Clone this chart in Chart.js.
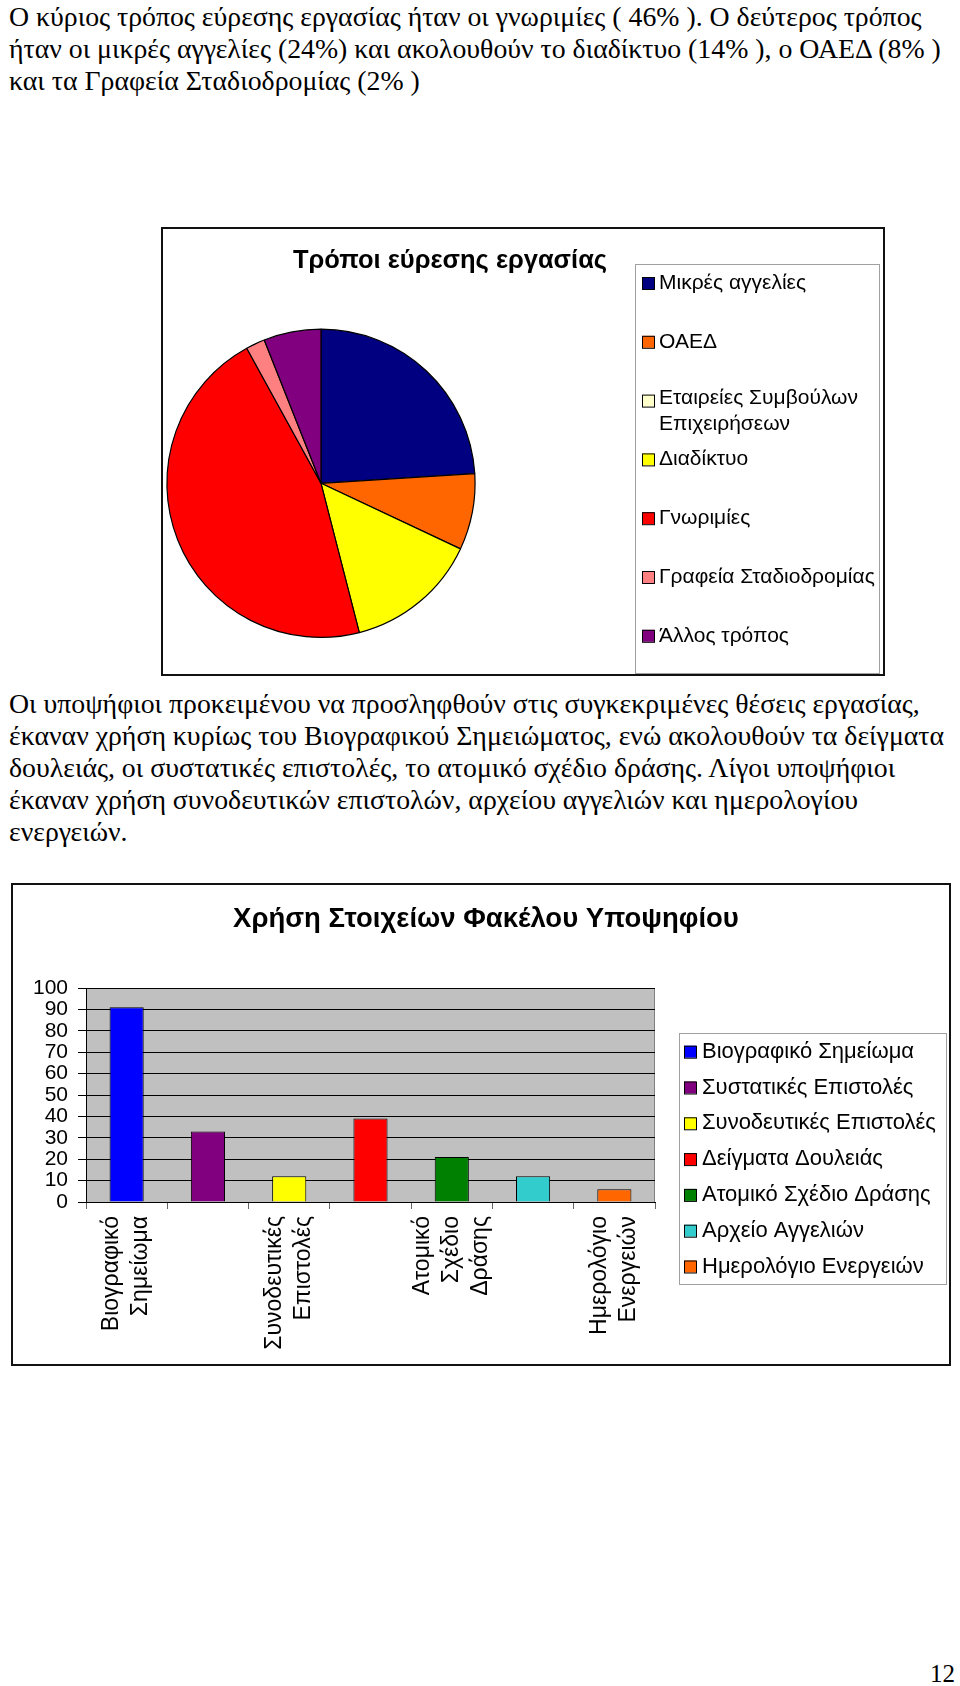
<!doctype html>
<html>
<head>
<meta charset="utf-8" />
<title>Τρόποι εύρεσης εργασίας</title>
<script src="https://cdn.jsdelivr.net/npm/chart.js@4.4.0/dist/chart.umd.min.js"></script>
<style>
    body { margin: 0; background: #fff; width: 960px; height: 1686px; position: relative; overflow: hidden; }
    .keimeno { position: absolute; left: 9px; margin: 0; font-family: "Liberation Serif", "Times New Roman", serif;
               font-size: 27.8px; line-height: 32px; color: #000; white-space: nowrap; }
    .plaisio { position: absolute; border: 2px solid #111; background: #fff; }
    .plaisio canvas { display: block; }
    #selida { position: absolute; right: 5px; top: 1660px; font-family: "Liberation Serif", serif; font-size: 25px; }
</style>
<script>
    // --- πίτα: τρόποι εύρεσης εργασίας (%)
    const tropoi = ['Μικρές αγγελίες', 'ΟΑΕΔ', 'Εταιρείες Συμβούλων Επιχειρήσεων', 'Διαδίκτυο',
                    'Γνωριμίες', 'Γραφεία Σταδιοδρομίας', 'Άλλος τρόπος'];
    const pososta = [24, 8, 0, 14, 46, 2, 6];
    const xromataPitas = ['#000080', '#FF6600', '#FFFFCC', '#FFFF00', '#FF0000', '#FF8080', '#800080'];

    // --- ράβδοι: χρήση στοιχείων φακέλου
    const stoixeia = ['Βιογραφικό Σημείωμα', 'Συστατικές Επιστολές', 'Συνοδευτικές Επιστολές', 'Δείγματα Δουλειάς',
                      'Ατομικό Σχέδιο Δράσης', 'Αρχείο Αγγελιών', 'Ημερολόγιο Ενεργειών'];
    const xrisi = [91, 33, 12, 39, 21, 12, 6];
    const xromataRabdon = ['#0000FF', '#800080', '#FFFF00', '#FF0000', '#008000', '#33CCCC', '#FF6600'];
    const yMin = 0, yMax = 100, yBima = 10;

    const gramma = "'Liberation Sans', Arial, sans-serif";

    // ο τίτλος μετακινείται οριζόντια εκεί που ήταν στο excel
    const titlosThesi = {
        id: 'titlosThesi',
        afterLayout(chart, args, o) {
            const t = chart.titleBlock;
            t.left = o.x - 300;
            t.right = o.x + 300;
        }
    };

    // υπόμνημα με πλαίσιο, σαν του excel
    const plaisioYpomnimatos = {
        id: 'plaisioYpomnimatos',
        afterDraw(chart, args, o) {
            const ctx = chart.ctx;
            const etiketes = chart.data.labels;
            const xromata = chart.data.datasets[0].backgroundColor;
            ctx.save();
            ctx.lineWidth = 1;
            ctx.strokeStyle = '#a0a0a0';
            ctx.strokeRect(o.box[0] + 0.5, o.box[1] + 0.5, o.box[2], o.box[3]);
            ctx.font = o.font;
            ctx.textBaseline = 'middle';
            etiketes.forEach((et, i) => {
                const y = o.y0 + i * o.step;
                ctx.fillStyle = xromata[i];
                ctx.fillRect(o.sx, y - o.size / 2, o.size, o.size);
                ctx.strokeStyle = '#000';
                ctx.strokeRect(o.sx + 0.5, y - o.size / 2 + 0.5, o.size, o.size);
                // σπάσιμο γραμμής αν δεν χωράει
                const lekseis = et.split(' ');
                const grammes = [];
                let tr = '';
                lekseis.forEach(l => {
                    const dok = tr ? tr + ' ' + l : l;
                    if (tr && ctx.measureText(dok).width > o.maxW) { grammes.push(tr); tr = l; }
                    else tr = dok;
                });
                grammes.push(tr);
                ctx.fillStyle = '#000';
                const arxi = grammes.length > 1 ? y + o.multiStart : y;
                grammes.forEach((g, j) => ctx.fillText(g, o.tx, arxi + j * o.lineGap));
            });
            ctx.restore();
        }
    };

    // γκρι φόντο στην περιοχή σχεδίασης
    const fontoPlot = {
        id: 'fontoPlot',
        beforeDraw(chart, args, o) {
            const { ctx, chartArea: a } = chart;
            ctx.save();
            ctx.fillStyle = o.color;
            ctx.fillRect(a.left, a.top, a.width, a.height);
            ctx.strokeStyle = o.border;
            ctx.lineWidth = 1;
            ctx.strokeRect(a.left + 0.5, a.top + 0.5, a.width - 1, a.height);
            ctx.restore();
        }
    };

    // οι ετικέτες πολλών γραμμών κεντράρονται στην κατηγορία
    const kentroEtiketon = {
        id: 'kentroEtiketon',
        beforeDraw(chart, args, o) {
            chart.scales.x.getLabelItems().forEach(it => {
                if (it._metakinithike) return;
                const n = Array.isArray(it.label) ? it.label.length : 1;
                it.options.translation[0] -= (n - 1) / 2 * o.lineHeight;
                it._metakinithike = true;
            });
        }
    };

    window.onload = function () {
        new Chart(document.getElementById('pita'), {
            type: 'pie',
            data: {
                labels: tropoi,
                datasets: [{ data: pososta, backgroundColor: xromataPitas, borderColor: '#000', borderWidth: 1.2 }]
            },
            options: {
                responsive: false,
                animation: false,
                layout: { padding: { left: 3, right: 407, top: 0, bottom: 36 } },
                plugins: {
                    legend: { display: false },
                    tooltip: { enabled: false },
                    title: {
                        display: true, text: 'Τρόποι εύρεσης εργασίας', color: '#000',
                        font: { family: gramma, size: 25.5, weight: 'bold', lineHeight: 1.2 },
                        padding: { top: 17, bottom: 52 }
                    },
                    titlosThesi: { x: 287 },
                    plaisioYpomnimatos: {
                        box: [472, 35, 244, 409], sx: 479, size: 12, tx: 496, y0: 54, step: 58.8,
                        font: '21px ' + gramma, maxW: 216, multiStart: -2, lineGap: 26
                    }
                }
            },
            plugins: [titlosThesi, plaisioYpomnimatos]
        });

        new Chart(document.getElementById('rabdoi'), {
            type: 'bar',
            data: {
                labels: stoixeia,
                datasets: [{
                    data: xrisi, backgroundColor: xromataRabdon, borderColor: '#000', borderWidth: 1,
                    barPercentage: 0.42, categoryPercentage: 1
                }]
            },
            options: {
                responsive: false,
                animation: false,
                layout: { padding: { left: 0, right: 294, top: 0, bottom: 0 } },
                scales: {
                    y: {
                        min: yMin, max: yMax,
                        afterFit: s => { s.width = 73; },
                        ticks: { stepSize: yBima, autoSkip: false, color: '#000', padding: 10, font: { family: gramma, size: 21 } },
                        grid: { color: '#000', tickLength: 8 },
                        border: { color: '#000' }
                    },
                    x: {
                        afterFit: s => { s.height = 162; },
                        ticks: {
                            autoSkip: false, minRotation: 90, maxRotation: 90, color: '#000', padding: 7,
                            font: { family: gramma, size: 23, lineHeight: 1.26 },
                            callback: (v, i) => i % 2 === 0 ? stoixeia[i].split(' ') : ''
                        },
                        grid: { offset: true, drawOnChartArea: false, tickLength: 7, color: '#666' },
                        border: { color: '#000' }
                    }
                },
                plugins: {
                    legend: { display: false },
                    tooltip: { enabled: false },
                    title: {
                        display: true, text: 'Χρήση Στοιχείων Φακέλου Υποψηφίου', color: '#000',
                        font: { family: gramma, size: 27.5, weight: 'bold', lineHeight: 1.2 },
                        padding: { top: 18, bottom: 52 }
                    },
                    titlosThesi: { x: 473 },
                    fontoPlot: { color: '#C0C0C0', border: '#808080' },
                    kentroEtiketon: { lineHeight: 29 },
                    plaisioYpomnimatos: {
                        box: [666, 148, 267, 251], sx: 671, size: 12, tx: 689, y0: 166.7, step: 35.8,
                        font: '22px ' + gramma, maxW: 250, multiStart: 0, lineGap: 24
                    }
                }
            },
            plugins: [titlosThesi, fontoPlot, kentroEtiketon, plaisioYpomnimatos]
        });
    }
</script>
</head>
<body>
    <p class="keimeno" style="top:1px">
        Ο κύριος τρόπος εύρεσης εργασίας ήταν οι γνωριμίες ( 46% ). Ο δεύτερος τρόπος<br>
        ήταν οι μικρές αγγελίες (24%) και ακολουθούν το διαδίκτυο (14% ), ο ΟΑΕΔ (8% )<br>
        και τα Γραφεία Σταδιοδρομίας (2% )
    </p>

    <div class="plaisio" style="left:161px; top:227px; width:720px; height:445px">
        <canvas id="pita" width="720" height="445"></canvas>
    </div>

    <p class="keimeno" style="top:688px">
        Οι υποψήφιοι προκειμένου να προσληφθούν στις συγκεκριμένες θέσεις εργασίας,<br>
        έκαναν χρήση κυρίως του Βιογραφικού Σημειώματος, ενώ ακολουθούν τα δείγματα<br>
        δουλειάς, οι συστατικές επιστολές, το ατομικό σχέδιο δράσης. Λίγοι υποψήφιοι<br>
        έκαναν χρήση συνοδευτικών επιστολών, αρχείου αγγελιών και ημερολογίου<br>
        ενεργειών.
    </p>

    <div class="plaisio" style="left:11px; top:883px; width:936px; height:479px">
        <canvas id="rabdoi" width="936" height="479"></canvas>
    </div>

    <div id="selida">12</div>
</body>
</html>
